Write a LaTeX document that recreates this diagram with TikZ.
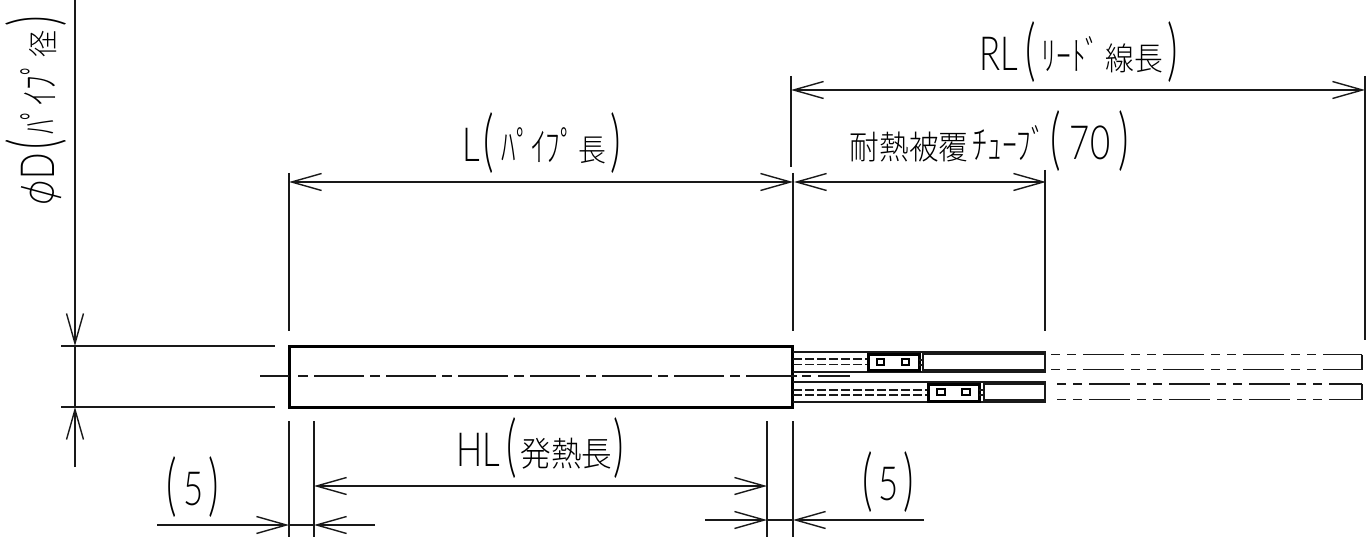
\documentclass[tikz,border=0pt]{standalone}
\usepackage{fontspec}
\usetikzlibrary{arrows.meta}
\newfontfamily\latf{Lato Light}
\newfontfamily\cjkf{Noto Sans CJK JP Light}
\newcommand{\Bx}[2]{\makebox[#1pt][c]{#2}}
\newcommand{\Lt}[1]{{\fontsize{47pt}{47pt}\selectfont\latf\scalebox{0.74}[1]{#1}}}
\newcommand{\Pn}[1]{\raisebox{-3pt}{\fontsize{68pt}{68pt}\selectfont\latf\scalebox{0.6}[1]{#1}}}
\newcommand{\Kn}[1]{{\fontsize{40pt}{40pt}\selectfont\cjkf\scalebox{0.74}[1]{#1}}}
\newcommand{\Kj}[2]{{\fontsize{#1pt}{#1pt}\selectfont\cjkf\scalebox{0.9}[1]{#2}}}
\tikzset{
  x=1pt,y=-1pt,
  thinl/.style={line width=1.4pt,black!90},
  thickl/.style={line width=3pt,black},
  midl/.style={line width=1.7pt,black!90},
  dimarrow/.style={thinl,{Straight Barb[length=30pt,width=17pt,line width=1.4pt]}-{Straight Barb[length=30pt,width=17pt,line width=1.4pt]}},
  endarrow/.style={thinl,-{Straight Barb[length=30pt,width=17pt,line width=1.4pt]}},
  label text/.style={inner sep=0pt,outer sep=0pt,anchor=base west,text=black},
  center dash/.style={thinl,dash pattern=on 10pt off 6pt on 50pt off 6pt},
  inner dash/.style={midl,dash pattern=on 9pt off 3pt},
  lead dash/.style={midl,dash pattern=on 9pt off 7pt on 9pt off 7pt on 41pt off 7pt},
  connbox/.style={line width=3pt,draw=black,fill=white},
  holebox/.style={line width=2.4pt,draw=black,fill=white},
}
\begin{document}
\begin{tikzpicture}
\useasboundingbox[fill=white] (0,0) rectangle (1367,537);
% named reference points
\coordinate (pTL) at (289,346); \coordinate (pBR) at (792,407);
\coordinate (dimLa) at (289,182); \coordinate (dimLb) at (793,182);
\coordinate (dimTa) at (794,182); \coordinate (dimTb) at (1046,182);
\coordinate (dimRa) at (791,90); \coordinate (dimRb) at (1365,90);
\coordinate (dimHa) at (314,486); \coordinate (dimHb) at (767,486);
\coordinate (d5la) at (157,525); \coordinate (d5lb) at (289,525);
\coordinate (d5lc) at (375,525); \coordinate (d5ld) at (314,525);
\coordinate (d5ra) at (705,520); \coordinate (d5rb) at (767,520);
\coordinate (d5rc) at (924,520); \coordinate (d5rd) at (793,520);
\coordinate (phiTop) at (75,0); \coordinate (phiA) at (75,346);
\coordinate (phiB) at (75,407); \coordinate (phiBot) at (75,467);
% extension lines
\foreach \x/\a/\b in {289/173/331, 793/173/331, 1045/170/331, 791/76/167, 1365/76/340,
                      289/421/537, 314/421/537, 767/421/537, 793/421/537}
  \draw[thinl] (\x,\a) -- (\x,\b);
\draw[thinl] (61,346) -- (275,346);
\draw[thinl] (61,407) -- (275,407);
% dimension lines
\draw[dimarrow] (dimLa) -- (dimLb);
\draw[dimarrow] (dimTa) -- (dimTb);
\draw[dimarrow] (dimRa) -- (dimRb);
\draw[dimarrow] (dimHa) -- (dimHb);
\draw[endarrow] (d5la) -- (d5lb);
\draw[endarrow] (d5lc) -- (d5ld);
\draw[endarrow] (d5ra) -- (d5rb);
\draw[endarrow] (d5rc) -- (d5rd);
\draw[thinl] (d5lb) -- (d5ld);
\draw[thinl] (d5rb) -- (d5rd);
\draw[endarrow] (phiTop) -- (phiA);
\draw[endarrow] (phiBot) -- (phiB);
\draw[thinl] (phiA) -- (phiB);
% pipe body
\draw[thickl] (pTL) rectangle (pBR);
\draw[thinl] (260,376) -- (289,376);
\draw[center dash] (298,376) -- (792,376);
\draw[thinl] (792,376) -- (797,376);
\draw[midl] (802,376) -- (811,376);
\draw[midl] (818,376) -- (850,376);
% top lead
\draw[midl] (793,352) -- (1045,352) -- (1045,372) -- (793,372);
\draw[inner dash] (793,359) -- (868,359);
\draw[inner dash] (793,364.5) -- (868,364.5);
\draw[connbox] (868,354) rectangle (919,370);
\draw[holebox] (877,359) rectangle (884,365);
\draw[holebox] (902,359) rectangle (909,365);
\draw[midl] (919,360) -- (923,360);
\draw[midl] (919,365) -- (923,365);
\draw[thinl] (923,354) rectangle (1045,370);
% bottom lead
\draw[midl] (793,382) -- (1045,382) -- (1045,402) -- (793,402);
\draw[inner dash] (793,390) -- (928,390);
\draw[inner dash] (793,395) -- (928,395);
\draw[connbox] (928,384) rectangle (979,401);
\draw[holebox] (937,389) rectangle (945,395);
\draw[holebox] (962,389) rectangle (970,395);
\draw[midl] (979,390) -- (983,390);
\draw[midl] (979,395) -- (983,395);
\draw[thinl] (984,384) rectangle (1045,400);
% lead extensions
\draw[lead dash] (1051,354.5) -- (1362,354.5);
\draw[lead dash] (1051,369.5) -- (1362,369.5);
\draw[midl] (1362,354.5) -- (1362,369.5);
\draw[lead dash] (1057,384) -- (1362,384);
\draw[lead dash] (1057,399.5) -- (1362,399.5);
\draw[midl] (1362,384) -- (1362,399.5);
% labels
\node[label text] (tL) at (460,162) {\Bx{22}{\Lt{L}}\Bx{14}{\Pn{(}}\hspace{5pt}\Bx{75}{\Kn{ﾊﾟｲﾌﾟ}}\Bx{32}{\Kj{31}{長}}\Bx{16}{\Pn{)}}};
\node[label text] (tRL) at (976,71) {\Bx{46}{\Lt{RL}}\Bx{18}{\Pn{(}}\Bx{62}{\Kn{ﾘｰﾄﾞ}}\Bx{65}{\Kj{32}{線長}}\Bx{12}{\Pn{)}}};
\node[label text] (tT) at (849,160) {\Bx{120}{\Kj{33}{耐熱被覆}}\hspace{2pt}\Bx{77}{\Kn{ﾁｭｰﾌﾞ}}\Bx{16}{\Pn{(}}\Bx{52}{\Lt{70}}\Bx{16}{\Pn{)}}};
\node[label text] (tH) at (454,466) {\Bx{48}{\Lt{HL}}\Bx{19}{\Pn{(}}\Bx{91}{\Kj{34}{発熱長}}\Bx{13}{\Pn{)}}};
\node[label text] (t5l) at (162,505) {\Bx{20}{\Pn{(}}\Bx{24}{\Lt{5}}\Bx{16}{\Pn{)}}};
\node[label text] (t5r) at (858,500) {\Bx{19}{\Pn{(}}\Bx{24}{\Lt{5}}\Bx{16}{\Pn{)}}};
\node[label text,rotate=90] (tP) at (54,205) {\Bx{25}{\rotatebox[origin=c]{-15}{\Lt{ϕ}}}\Bx{28}{\Lt{D}}\Bx{16}{\Pn{(}}\Bx{76}{\Kn{ﾊﾟｲﾌﾟ}}\Bx{31}{\Kj{30}{径}}\Bx{15}{\Pn{)}}};
\end{tikzpicture}
\end{document}
